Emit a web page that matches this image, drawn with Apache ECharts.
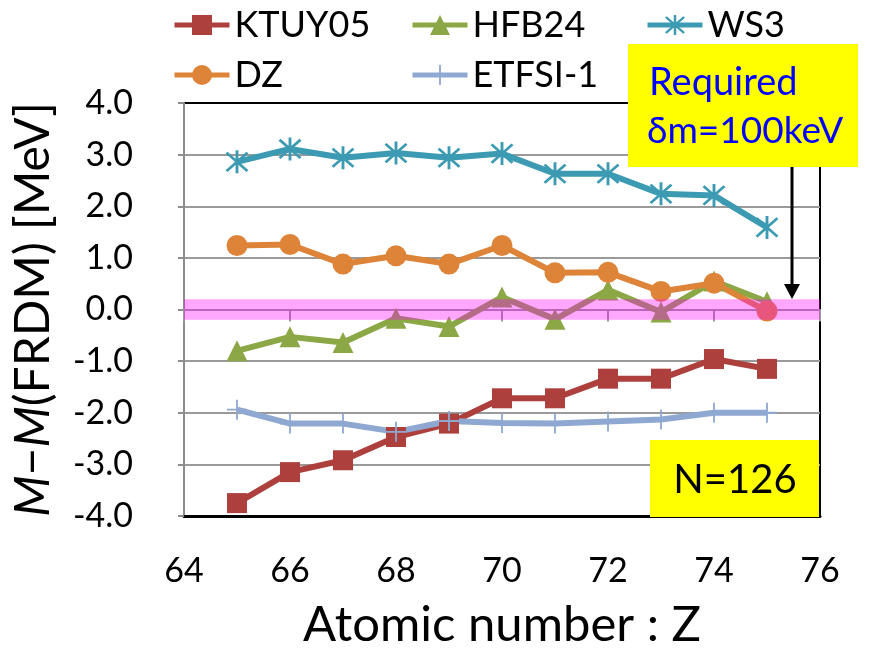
<!DOCTYPE html>
<html>
<head>
<meta charset="utf-8">
<script src="https://cdn.jsdelivr.net/npm/echarts@6/dist/echarts.min.js"></script>
<style>
  html, body { margin: 0; padding: 0; background: #fff; }
  #chart { width: 874px; height: 655px; }
</style>
</head>
<body>
<div id="chart"></div>
<script>
// Proton number of the N = 126 isotones
const Z = [65, 66, 67, 68, 69, 70, 71, 72, 73, 74, 75];

// Mass-model predictions relative to FRDM, in MeV
const KTUY05 = [-3.75, -3.15, -2.92, -2.47, -2.21, -1.72, -1.72, -1.34, -1.34, -0.96, -1.15];
const HFB24  = [-0.80, -0.53, -0.64, -0.17, -0.33, 0.24, -0.19, 0.38, -0.05, 0.55, 0.15];
const WS3    = [2.86, 3.11, 2.94, 3.03, 2.94, 3.02, 2.63, 2.63, 2.24, 2.21, 1.59];
const DZ     = [1.24, 1.26, 0.88, 1.04, 0.88, 1.24, 0.71, 0.72, 0.35, 0.51, -0.03];
const ETFSI1 = [-1.94, -2.21, -2.21, -2.37, -2.16, -2.20, -2.21, -2.17, -2.13, -2.00, -2.00];

// Required precision band around zero (MeV)
const BAND = [-0.2, 0.2];

// Axis ranges
const X_RANGE = [64, 76];
const Y_RANGE = [-4, 4];

const FONT = 'Lato';

// Asterisk and plus markers built from thin filled bars
const STAR = 'path://M8.9 0L11.1 0L11.1 20L8.9 20Z' +
  'M2.78 1.22L18.78 17.22L17.22 18.78L1.22 2.78Z' +
  'M18.78 2.78L2.78 18.78L1.22 17.22L17.22 1.22Z';
const PLUS = 'path://M9.1 0L10.9 0L10.9 20L9.1 20Z' +
  'M0 9.1L20 9.1L20 10.9L0 10.9Z';

const pairs = arr => Z.map((z, i) => [z, arr[i]]);

function lineSeries(name, values, color, symbol, size) {
  return {
    name: name,
    type: 'line',
    data: pairs(values),
    symbol: symbol,
    symbolSize: size,
    showSymbol: true,
    lineStyle: { width: 6, color: color },
    itemStyle: { color: color },
    z: 3
  };
}

function legendAt(name, left, top) {
  return {
    data: [name],
    left: left,
    top: top,
    padding: 0,
    itemGap: 0,
    itemWidth: 55,
    itemHeight: 25,
    selectedMode: false,
    lineStyle: { width: 5 },
    textStyle: { fontFamily: FONT, fontSize: 36, color: '#000' }
  };
}

const chart = echarts.init(document.getElementById('chart'), null, { renderer: 'canvas' });

chart.setOption({
  animation: false,
  backgroundColor: '#fff',
  grid: {
    left: 184, right: 54, top: 103, bottom: 136,
    show: true, borderColor: '#000', borderWidth: 2, backgroundColor: 'transparent'
  },
  legend: [
    legendAt('KTUY05', 172, 7),
    legendAt('HFB24', 410, 7),
    legendAt('WS3', 645, 7),
    legendAt('DZ', 172, 57),
    legendAt('ETFSI-1', 410, 57)
  ],
  xAxis: [
    {
      type: 'value', min: X_RANGE[0], max: X_RANGE[1], interval: 2,
      position: 'bottom',
      axisLine: { onZero: false, lineStyle: { color: '#000', width: 3 } },
      axisTick: { show: false },
      axisLabel: { fontFamily: FONT, fontSize: 34, color: '#000', margin: 38 },
      splitLine: { show: false },
      name: 'Atomic number : Z',
      nameLocation: 'middle',
      nameGap: 85,
      nameTextStyle: { fontFamily: FONT, fontSize: 49, color: '#000' }
    },
    {
      // zero line with its tick marks
      type: 'value', min: X_RANGE[0], max: X_RANGE[1], interval: 2,
      position: 'bottom',
      axisLine: { onZero: true, lineStyle: { color: '#9a9a9a', width: 2 } },
      axisTick: { show: true, length: 12, lineStyle: { color: '#9a9a9a', width: 2 } },
      axisLabel: { show: false },
      splitLine: { show: false }
    }
  ],
  yAxis: {
    type: 'value', min: Y_RANGE[0], max: Y_RANGE[1], interval: 1,
    axisLine: { show: true, lineStyle: { color: '#8c8c8c', width: 2 } },
    axisTick: { show: true, length: 6, lineStyle: { color: '#8c8c8c', width: 2 } },
    axisLabel: {
      fontFamily: FONT, fontSize: 34, color: '#000', margin: 51,
      formatter: v => v.toFixed(1)
    },
    splitLine: { show: true, showMinLine: false, showMaxLine: false, lineStyle: { color: '#9a9a9a', width: 2 } },
    name: '{i|M}\u2212{i|M}(FRDM) [MeV]',
    nameLocation: 'middle',
    nameGap: 126,
    nameTextStyle: {
      fontFamily: FONT, fontSize: 48, color: '#000',
      rich: { i: { fontFamily: FONT, fontSize: 48, fontStyle: 'italic', color: '#000' } }
    }
  },
  series: [
    lineSeries('KTUY05', KTUY05, '#AD403D', 'rect', 20),
    lineSeries('HFB24', HFB24, '#8CA745', 'triangle', 21),
    lineSeries('WS3', WS3, '#3C9BB3', STAR, 23),
    lineSeries('DZ', DZ, '#DD8438', 'circle', 21),
    lineSeries('ETFSI-1', ETFSI1, '#8EA8D2', PLUS, 20),
    {
      name: 'band',
      type: 'line',
      data: [],
      z: 10,
      silent: true,
      markArea: {
        silent: true,
        z: 10,
        itemStyle: { color: 'rgba(255,0,255,0.35)' },
        data: [[
          { xAxis: X_RANGE[0], yAxis: BAND[1] },
          { xAxis: X_RANGE[1], yAxis: BAND[0] }
        ]]
      }
    }
  ],
  graphic: [
    {
      type: 'rect', z: 20,
      shape: { x: 628, y: 44, width: 230, height: 123 },
      style: { fill: '#FFFF00' }
    },
    {
      type: 'text', z: 21, x: 649, y: 83,
      style: { text: 'Required', fontFamily: FONT, fontSize: 38, fill: '#0000FF', verticalAlign: 'middle' }
    },
    {
      type: 'text', z: 21, x: 647, y: 131,
      style: { text: '\u03B4m=100keV', fontFamily: FONT, fontSize: 37, fill: '#0000FF', verticalAlign: 'middle' }
    },
    {
      type: 'line', z: 21,
      shape: { x1: 792, y1: 167, x2: 792, y2: 288 },
      style: { stroke: '#000', lineWidth: 3 }
    },
    {
      type: 'polygon', z: 21,
      shape: { points: [[784, 284], [800, 284], [792, 299]] },
      style: { fill: '#000' }
    },
    {
      type: 'rect', z: 20,
      shape: { x: 650, y: 440, width: 169, height: 77 },
      style: { fill: '#FFFF00' }
    },
    {
      type: 'text', z: 21, x: 735, y: 480,
      style: { text: 'N=126', fontFamily: FONT, fontSize: 40, fill: '#000', align: 'center', verticalAlign: 'middle' }
    }
  ]
});
</script>
</body>
</html>
